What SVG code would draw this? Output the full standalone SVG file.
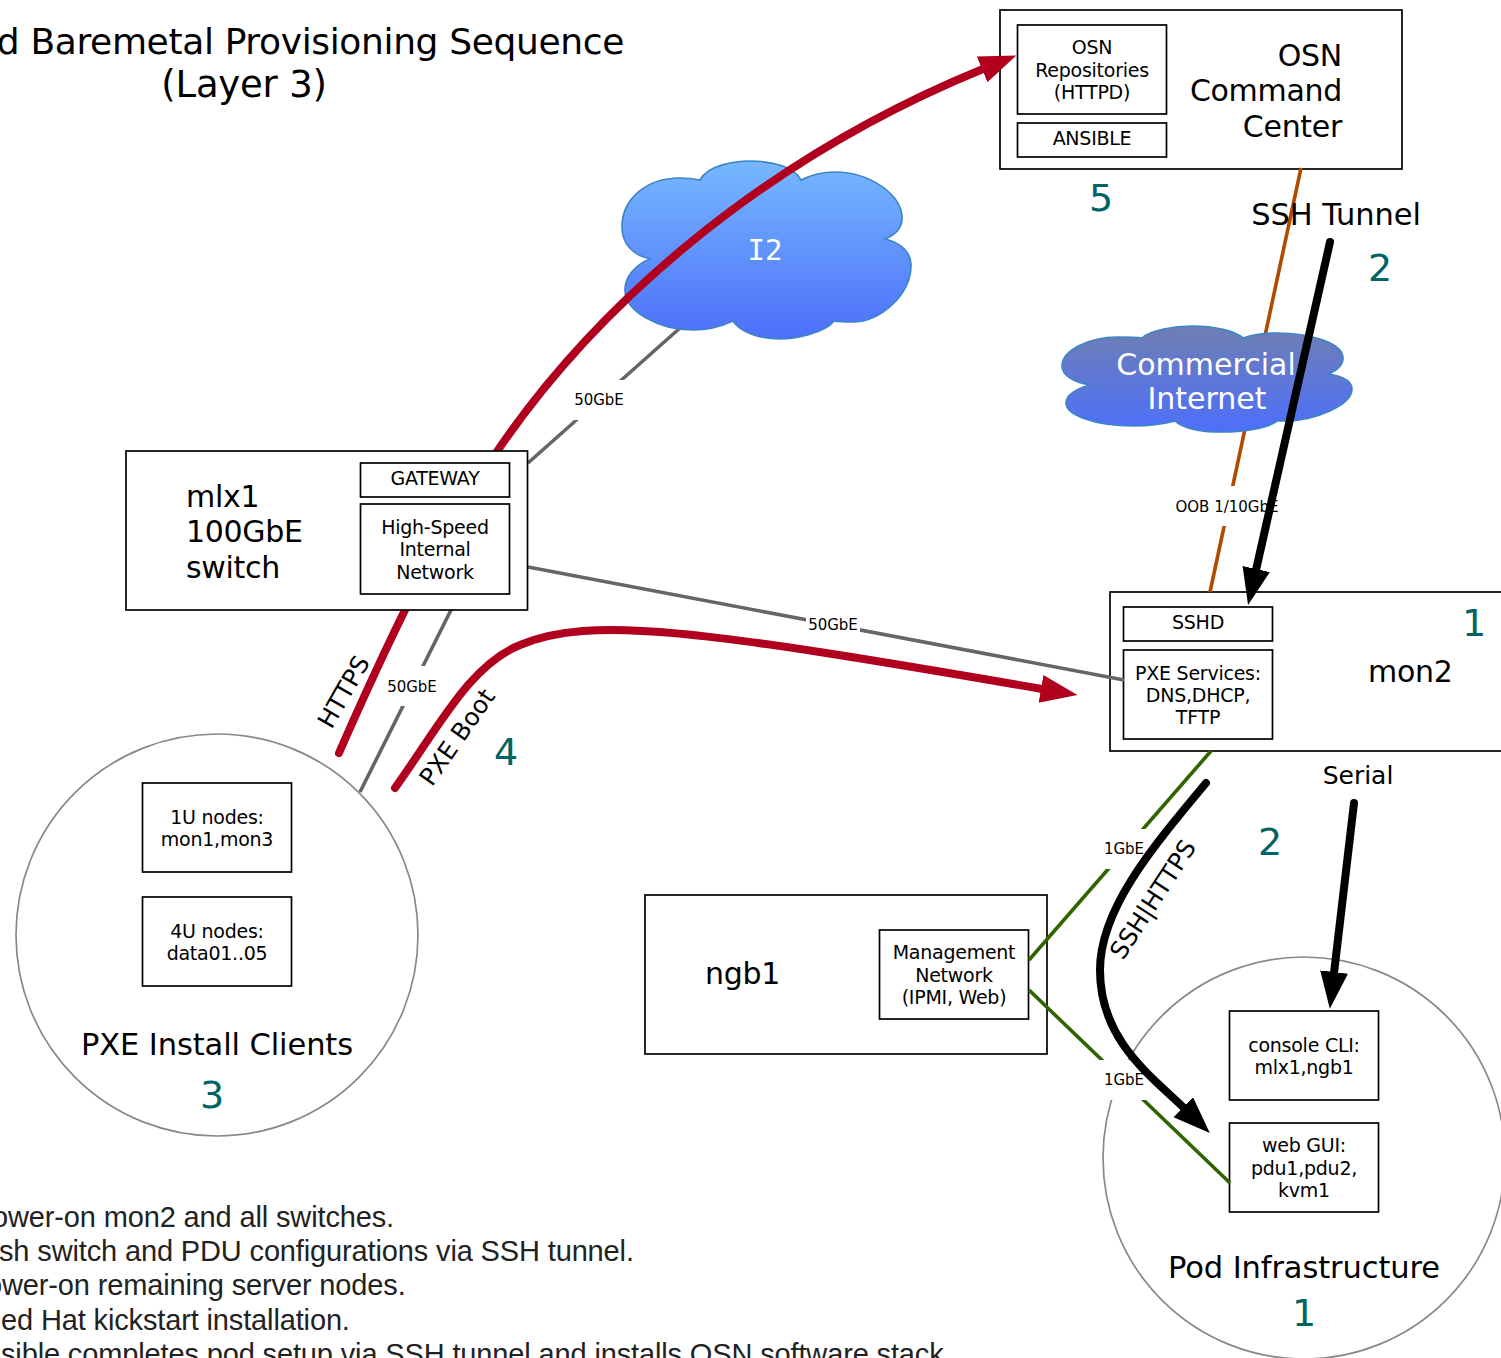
<svg xmlns="http://www.w3.org/2000/svg" width="1501" height="1358" viewBox="0 0 1501 1358">
<style>
text{font-family:"DejaVu Sans",Verdana,sans-serif;fill:#000}
.box{fill:#fff;stroke:#000;stroke-width:1.7}
.circ{fill:#fff;stroke:#888;stroke-width:1.7}
.s{font-size:19px;letter-spacing:-.25px;text-anchor:middle}
.xs{font-size:15px;text-anchor:middle}
.l{font-size:30px;letter-spacing:-.3px}
.c{font-size:30.5px;letter-spacing:-.1px;text-anchor:middle}
.n{font-size:38px;fill:#006464;text-anchor:middle}
.m{font-size:30px;fill:#fff;text-anchor:middle}
.r{font-size:24.500px;text-anchor:middle}
.t{font-size:36px;letter-spacing:-.35px}
.b{font-family:"Liberation Sans",Arial,sans-serif;font-size:29px;letter-spacing:-.14px;fill:#222}
.mask{fill:#fff;stroke:none}
.grey{fill:none;stroke:#666;stroke-width:3.6}
.org{fill:none;stroke:#b04a00;stroke-width:3.6}
.grn{fill:none;stroke:#2f6400;stroke-width:3.6}
.red{fill:none;stroke:#b0001e;stroke-width:8;stroke-linecap:round}
.blk{fill:none;stroke:#000;stroke-width:8;stroke-linecap:round}
</style>
<defs>
<linearGradient id="g1" x1="0" y1="0" x2="0" y2="1"><stop offset="0" stop-color="#76b8ff"/><stop offset="1" stop-color="#4d6ffa"/></linearGradient>
<linearGradient id="g2" x1="0" y1="0" x2="0" y2="1"><stop offset="0" stop-color="#6f7fb2"/><stop offset="1" stop-color="#4d6ffa"/></linearGradient>
<marker id="ar" markerUnits="userSpaceOnUse" markerWidth="40" markerHeight="30" refX="1" refY="14" orient="auto"><path d="M0 0L37 14L0 28z" fill="#b0001e"/></marker>
<marker id="ak" markerUnits="userSpaceOnUse" markerWidth="40" markerHeight="30" refX="1" refY="14" orient="auto"><path d="M0 0L37 14L0 28z" fill="#000"/></marker>
</defs>
<rect width="1501" height="1358" fill="#fff"/>

<g id="pxe-clients"><circle class="circ" cx="217" cy="935" r="201"/>
<rect class="box" x="142.500" y="783" width="149" height="89"/><text class="s" x="217" y="824">1U nodes:</text><text class="s" x="217" y="846">mon1,mon3</text>
<rect class="box" x="142.500" y="897" width="149" height="89"/><text class="s" x="217" y="938">4U nodes:</text><text class="s" x="217" y="960">data01..05</text>
<text class="c" x="217" y="1055">PXE Install Clients</text><text class="n" x="212" y="1108">3</text></g>

<g id="pod-infrastructure"><circle class="circ" cx="1304" cy="1158" r="201"/>
<rect class="box" x="1229.500" y="1011" width="149" height="89"/><text class="s" x="1304" y="1052">console CLI:</text><text class="s" x="1304" y="1074">mlx1,ngb1</text>
<rect class="box" x="1229.500" y="1123" width="149" height="89"/><text class="s" x="1304" y="1152">web GUI:</text><text class="s" x="1304" y="1175">pdu1,pdu2,</text><text class="s" x="1304" y="1197">kvm1</text>
<text class="c" x="1304" y="1278">Pod Infrastructure</text><text class="n" x="1304" y="1326">1</text></g>

<g id="osn"><rect class="box" x="1000" y="10" width="402" height="159"/>
<rect class="box" x="1017.500" y="25" width="149" height="89"/><text class="s" x="1092" y="54">OSN</text><text class="s" x="1092" y="77">Repositories</text><text class="s" x="1092" y="99">(HTTPD)</text>
<rect class="box" x="1017.500" y="123" width="149" height="34"/><text class="s" x="1092" y="145">ANSIBLE</text>
<text class="l" text-anchor="end" x="1342" y="66">OSN</text><text class="l" text-anchor="end" x="1342" y="101">Command</text><text class="l" text-anchor="end" x="1342" y="137">Center</text>
<text class="n" x="1101" y="211">5</text></g>

<g id="mon2"><rect class="box" x="1110" y="592" width="402" height="159"/>
<rect class="box" x="1123.500" y="607" width="149" height="34"/><text class="s" x="1198" y="629">SSHD</text>
<rect class="box" x="1123.500" y="650" width="149" height="89"/><text class="s" x="1198" y="680">PXE Services:</text><text class="s" x="1198" y="702">DNS,DHCP,</text><text class="s" x="1198" y="724">TFTP</text>
<text class="l" x="1368" y="682">mon2</text><text class="n" x="1474" y="636">1</text></g>

<g id="ngb1"><rect class="box" x="645" y="895" width="402" height="159"/>
<rect class="box" x="879.500" y="930" width="149" height="89"/><text class="s" x="954" y="959">Management</text><text class="s" x="954" y="982">Network</text><text class="s" x="954" y="1004">(IPMI, Web)</text>
<text class="l" x="705" y="984">ngb1</text></g>

<g id="connectors-under">
<path class="org" d="M1301 168L1210 592"/>
<rect class="mask" x="1173" y="486" width="108" height="40"/>
<path class="grey" d="M528 463L680 328"/><rect class="mask" x="572" y="380" width="54" height="40"/>
</g>

<g id="i2"><path d="M700 180C708 165 735 161 750 161C775 161 795 168 801 180C815 173 825 172 835 172C870 172 902 195 902 218C902 228 895 235 885 239C902 243 911 253 911 265C911 295 880 322 853 322C845 322 840 322 834 321C825 333 795 339 780 339C760 339 740 332 733 321C720 327 705 330 693 330C660 330 625 312 625 290C625 277 635 265 650 259C632 255 622 243 622 227C622 200 645 178 680 178C687 178 695 179 700 180z" fill="url(#g1)" stroke="#3d85c6" stroke-width="1.700"/><text x="765" y="260" font-size="29" text-anchor="middle" style="font-family:'DejaVu Sans Mono',monospace;fill:#fff">I2</text></g>

<g id="commercial-internet"><path d="M1142 338C1150 330 1175 326 1192 326C1215 326 1235 331 1243 338C1255 334 1265 333 1277 333C1310 333 1343 343 1343 358C1343 365 1337 371 1328 374C1342 376 1352 381 1352 389C1352 405 1315 421 1285 421C1282 421 1279 421 1277 421C1268 428 1245 432 1220 432C1200 432 1182 428 1175 421C1160 425 1145 426 1133 426C1095 426 1066 415 1066 403C1066 395 1076 389 1090 385C1073 382 1062 375 1062 366C1062 350 1090 337 1117 337C1127 337 1135 337 1142 338z" fill="url(#g2)" stroke="#3d85c6" stroke-width="1.700"/><text class="m" x="1206" y="375">Commercial</text><text class="m" x="1207" y="409">Internet</text></g>

<g id="connectors">
<path class="grey" d="M528 567L1124 680"/><rect class="mask" x="806" y="604" width="54" height="40"/><text class="xs" x="833" y="630">50GbE</text>
<path class="grey" d="M451 610L360 792"/><rect class="mask" x="384" y="666" width="56" height="40"/><text class="xs" x="412" y="692">50GbE</text>
<text class="xs" x="599" y="405">50GbE</text><text class="xs" x="1227" y="512">OOB 1/10GbE</text>
<path class="grn" d="M1211 751L1029 960"/><rect class="mask" x="1098" y="829" width="52" height="40"/><text class="xs" x="1124" y="854">1GbE</text>
<path class="grn" d="M1029 990L1230 1183"/><rect class="mask" x="1098" y="1060" width="52" height="40"/><text class="xs" x="1124" y="1085">1GbE</text>
<path class="red" marker-end="url(#ar)" d="M490 462C590 310 760 160 983 69"/>
<path class="red" d="M410 600C380 660 360 705 339 753"/>
<path class="red" marker-end="url(#ar)" d="M395 788C440 725 470 665 520 645C590 615 700 630 1042 689"/>
<path class="blk" marker-end="url(#ak)" d="M1330 242L1256 570"/>
<path class="blk" marker-end="url(#ak)" d="M1354 803L1334 973"/>
<path class="blk" marker-end="url(#ak)" d="M1206 783C1150 850 1100 910 1100 970C1100 1040 1150 1075 1184 1108"/>
</g>

<g id="mlx1"><rect class="box" x="126" y="451" width="401.500" height="159"/>
<rect class="box" x="360.500" y="463" width="149" height="34"/><text class="s" x="435" y="485">GATEWAY</text>
<rect class="box" x="360.500" y="504" width="149" height="90"/><text class="s" x="435" y="534">High-Speed</text><text class="s" x="435" y="556">Internal</text><text class="s" x="435" y="579">Network</text>
<text class="l" x="186" y="507">mlx1</text><text class="l" x="186" y="542">100GbE</text><text class="l" x="186" y="578">switch</text></g>

<g id="labels">
<text class="c" x="1336" y="225">SSH Tunnel</text><text class="n" x="1380" y="281">2</text>
<text class="n" x="1270" y="855">2</text><text class="n" x="506" y="765">4</text>
<text x="1358" y="784" font-size="25" text-anchor="middle">Serial</text>
<text class="r" transform="translate(351 696) rotate(-60)">HTTPS</text>
<text class="r" transform="translate(464 742) rotate(-55)">PXE Boot</text>
<text class="r" transform="translate(1160 904) rotate(-57)">SSH|HTTPS</text>
<text class="t" text-anchor="end" x="624" y="54">d Baremetal Provisioning Sequence</text>
<text text-anchor="middle" x="244" y="97" font-size="37" letter-spacing="-.2">(Layer 3)</text>
<text class="b" x="-8" y="1227">ower-on mon2 and all switches.</text>
<text class="b" x="-1" y="1261">sh switch and PDU configurations via SSH tunnel.</text>
<text class="b" x="-14" y="1295">ower-on remaining server nodes.</text>
<text class="b" x="1" y="1330">ed Hat kickstart installation.</text>
<text class="b" x="1" y="1364">sible completes pod setup via SSH tunnel and installs OSN software stack.</text>
</g>
</svg>
